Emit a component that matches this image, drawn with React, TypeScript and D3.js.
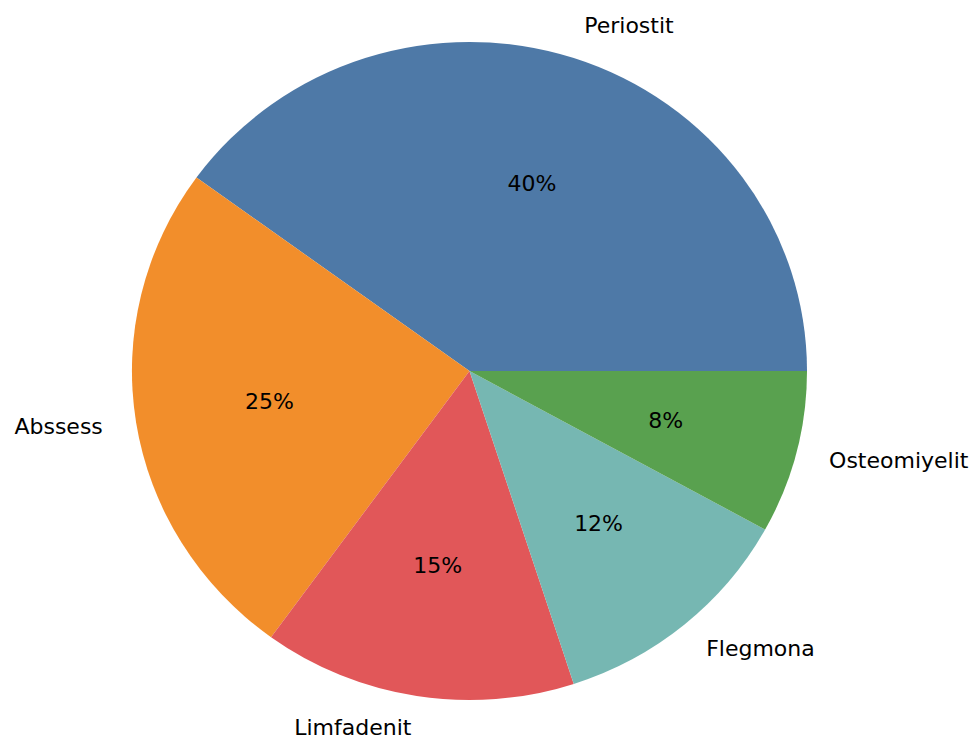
import React, { useEffect, useRef } from "react";
import * as d3 from "d3";

const labels = ["Periostit", "Abssess", "Limfadenit", "Flegmona", "Osteomiyelit"];
const values = [40, 25, 15, 12, 8];
const colors = ["#4e79a7", "#f28e2b", "#e15759", "#76b7b2", "#59a14f"];

const App = () => {
  const svgRef = useRef<SVGSVGElement>(null);

  useEffect(() => {
    const width = 969;
    const height = 737;
    const cx = 469.5;
    const cy = 371;
    const rx = 337.5;
    const ry = 329;

    d3.select(svgRef.current).selectAll("*").remove();

    const svg = d3
      .select(svgRef.current)
      .attr("width", width)
      .attr("height", height);

    // matplotlib style: start at 3 o'clock, go counterclockwise
    const pie = d3
      .pie<number>()
      .sort(null)
      .startAngle(Math.PI / 2)
      .endAngle(Math.PI / 2 - 2 * Math.PI);

    const arcs = pie(values);
    const arc = d3.arc<d3.PieArcDatum<number>>().innerRadius(0).outerRadius(1);

    const g = svg
      .append("g")
      .attr("transform", `translate(${cx},${cy}) scale(${rx},${ry})`);

    g.selectAll("path")
      .data(arcs)
      .enter()
      .append("path")
      .attr("d", arc)
      .attr("fill", (d, i) => colors[i]);

    const font = "'DejaVu Sans', sans-serif";
    const mid = (d: d3.PieArcDatum<number>) => (d.startAngle + d.endAngle) / 2;

    // outer labels
    svg
      .selectAll("text.label")
      .data(arcs)
      .enter()
      .append("text")
      .attr("class", "label")
      .attr("x", (d) => cx + 1.1 * rx * Math.sin(mid(d)))
      .attr("y", (d) => cy - 1.1 * ry * Math.cos(mid(d)) - 1)
      .attr("text-anchor", (d) => (Math.sin(mid(d)) >= 0 ? "start" : "end"))
      .attr("dominant-baseline", "central")
      .attr("font-family", font)
      .attr("font-size", 22)
      .attr("fill", "#000")
      .text((d, i) => labels[i]);

    // percentage labels
    const total = d3.sum(values);
    svg
      .selectAll("text.pct")
      .data(arcs)
      .enter()
      .append("text")
      .attr("class", "pct")
      .attr("x", (d) => cx + 0.6 * rx * Math.sin(mid(d)))
      .attr("y", (d) => cy - 0.6 * ry * Math.cos(mid(d)))
      .attr("text-anchor", "middle")
      .attr("dominant-baseline", "central")
      .attr("font-family", font)
      .attr("font-size", 22)
      .attr("fill", "#000")
      .text((d) => `${Math.round((d.value / total) * 100)}%`);
  }, []);

  return (
    <svg
      ref={svgRef}
      style={{ position: "absolute", left: 0, top: 0, display: "block" }}
    ></svg>
  );
};

export default App;
